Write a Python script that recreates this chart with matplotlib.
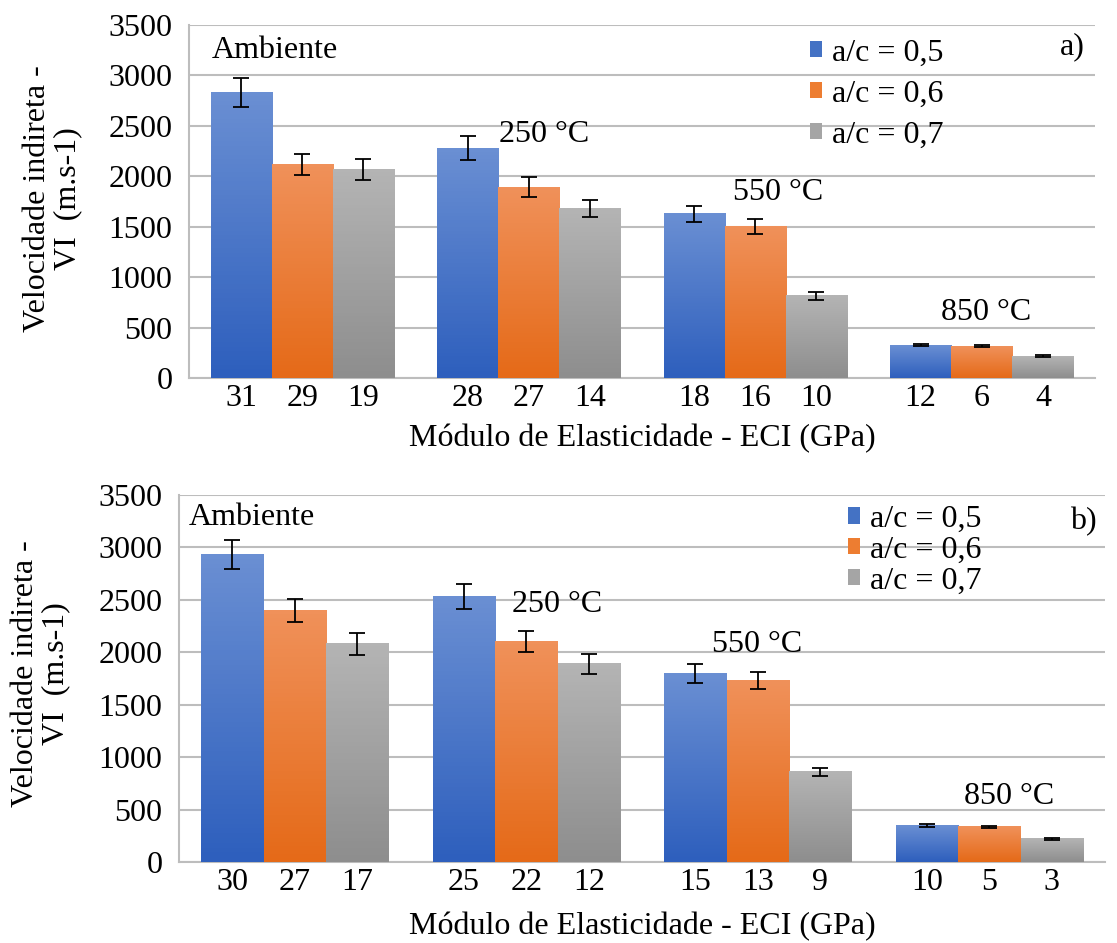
import matplotlib
matplotlib.use("Agg")
import matplotlib.pyplot as plt
import numpy as np
from matplotlib.colors import LinearSegmentedColormap
from matplotlib.patches import Patch

plt.rcParams['font.family'] = ['Liberation Serif', 'DejaVu Serif']
plt.rcParams['font.size'] = 23

series = ["a/c = 0,5", "a/c = 0,6", "a/c = 0,7"]
groups = ["Ambiente", "250 °C", "550 °C", "850 °C"]

# panel a)
vel_a = [[2830, 2280, 1630, 325],
         [2120, 1890, 1500, 315],
         [2065, 1680, 815, 215]]
err_a = [[140, 115, 80, 12],
         [105, 100, 75, 12],
         [105, 85, 40, 10]]
eci_a = [[31, 28, 18, 12],
         [29, 27, 16, 6],
         [19, 14, 10, 4]]

# panel b)
vel_b = [[2930, 2530, 1800, 350],
         [2400, 2100, 1730, 335],
         [2080, 1890, 860, 220]]
err_b = [[140, 120, 90, 15],
         [110, 100, 85, 12],
         [105, 95, 40, 10]]
eci_b = [[30, 25, 15, 10],
         [27, 22, 13, 5],
         [17, 12, 9, 3]]

# gradient colours (top, bottom)
grad = [("#6a8fd3", "#2e5fbd"),
        ("#f0915a", "#e56a18"),
        ("#b4b4b4", "#8e8e8e")]
mid = ["#4472c4", "#ed7d31", "#a5a5a5"]

width = 0.27
offsets = [-width, 0, width]


def draw_panel(ax, vel, err, eci, tag, grp_pos, tag_pos, leg_x, leg_y, leg_spacing):
    x = np.arange(len(groups))
    ticks, labels = [], []
    for i in range(3):
        cmap = LinearSegmentedColormap.from_list("g%d" % i, [grad[i][1], grad[i][0]])
        xs = x + offsets[i]
        bars = ax.bar(xs, vel[i], width, color=mid[i], zorder=2)
        for b in bars:
            x0, y0 = b.get_x(), b.get_y()
            w, h = b.get_width(), b.get_height()
            g = np.linspace(0, 1, 64).reshape(-1, 1)
            ax.imshow(g, cmap=cmap, extent=[x0, x0 + w, y0, y0 + h],
                      origin="lower", aspect="auto", zorder=3)
        ax.errorbar(xs, vel[i], yerr=err[i], fmt="none", ecolor="black",
                    elinewidth=1.3, capsize=6, capthick=1.3, zorder=4)
        ticks += list(xs)
        labels += [str(v) for v in eci[i]]
    ax.set_xlim(-0.5, 3.5)
    ax.set_ylim(0, 3500)
    ax.set_yticks(np.arange(0, 3501, 500))
    ax.set_xticks(ticks)
    ax.set_xticklabels(labels)
    ax.tick_params(axis="both", length=0)
    ax.tick_params(axis="x", pad=4)
    ax.tick_params(axis="y", pad=12)
    ax.grid(axis="y", color="#bdbdbd", linewidth=1.5, zorder=0)
    ax.set_axisbelow(True)
    for s in ["top", "right"]:
        ax.spines[s].set_visible(False)
    for s in ["left", "bottom"]:
        ax.spines[s].set_color("#bdbdbd")
        ax.spines[s].set_linewidth(1.5)

    for name, (gx, gy) in zip(groups, grp_pos):
        ax.text(gx, gy, name, ha="left", va="center", zorder=5)
    ax.text(tag_pos[0], tag_pos[1], tag, ha="right", va="center")

    handles = [Patch(facecolor=mid[i], edgecolor="none") for i in range(3)]
    ax.legend(handles, series, loc="upper left", bbox_to_anchor=(leg_x, leg_y),
              frameon=False, handlelength=0.4, handleheight=0.4,
              handletextpad=0.3, labelspacing=leg_spacing, borderaxespad=0,
              borderpad=0)


fig = plt.figure(figsize=(11.17, 9.43), dpi=100)
ax1 = fig.add_axes([0.1692, 0.5992, 0.8111, 0.3743])
ax2 = fig.add_axes([0.1603, 0.0859, 0.8290, 0.3892])

draw_panel(ax1, vel_a, err_a, eci_a, "a)",
           [(-0.40, 3250), (0.87, 2410), (1.90, 1840), (2.82, 650)],
           (3.456, 3280), 0.685, 0.962, 0.38)
ax1.set_xlabel("Módulo de Elasticidade - ECI (GPa)", labelpad=8)

draw_panel(ax2, vel_b, err_b, eci_b, "b)",
           [(-0.46, 3290), (0.94, 2460), (1.80, 2070), (2.89, 620)],
           (3.465, 3245), 0.722, 0.973, 0.06)
ax2.set_xlabel("Módulo de Elasticidade - ECI (GPa)", labelpad=11)

ylab = "Velocidade indireta -\nVI  (m.s-1)"
fig.text(53 / 1117, 1 - 199 / 943, ylab, rotation=90, ha="center", va="center",
         multialignment="center", linespacing=1.05)
fig.text(41 / 1117, 1 - 674 / 943, ylab, rotation=90, ha="center", va="center",
         multialignment="center", linespacing=1.05)

fig.savefig("out.png", dpi=100)
